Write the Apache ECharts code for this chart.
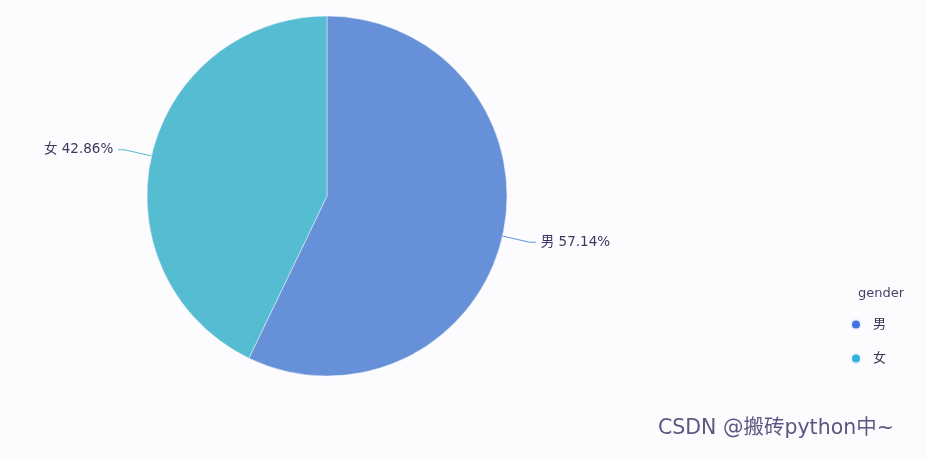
<!DOCTYPE html>
<html>
<head>
<meta charset="utf-8">
<script src="https://cdn.jsdelivr.net/npm/echarts@6/dist/echarts.min.js"></script>
<style>
html,body{margin:0;padding:0;background:#fcfcfe;}
#chart{width:926px;height:460px;}
</style>
</head>
<body>
<div id="chart"></div>
<script>
const categories = ['男', '女'];
const values = [4, 3];
const sliceColors = ['#6690d8', '#56bcd1'];
const legendColors = ['#3f72de', '#2fb3dc'];
const legendTitle = 'gender';
const watermark = 'CSDN @搬砖python中~';

const FONT = '"DejaVu Sans", "Noto Sans CJK SC", sans-serif';
const chart = echarts.init(document.getElementById('chart'));
chart.setOption({
  backgroundColor: '#fcfcfe',
  animation: false,
  title: [{
    text: legendTitle,
    left: 853, top: 282,
    textStyle: {fontSize: 13, fontWeight: 'normal', color: '#4a3f66', fontFamily: FONT}
  }, {
    text: watermark,
    left: 653, top: 413,
    textStyle: {fontSize: 20.5, fontWeight: 'normal', color: '#5e5680', fontFamily: FONT}
  }],
  legend: {
    orient: 'vertical',
    left: 845, top: 313,
    icon: 'circle',
    itemWidth: 10, itemHeight: 10,
    itemGap: 21,
    textStyle: {fontSize: 13, color: '#3a2f55', fontFamily: FONT, padding: [0, 0, 0, 7]},
    data: categories.map((c, i) => ({name: c, itemStyle: {color: legendColors[i]}}))
  },
  series: [{
    type: 'pie',
    center: [327, 196],
    radius: 180,
    startAngle: 90,
    clockwise: true,
    data: categories.map((c, i) => ({name: c, value: values[i], itemStyle: {color: sliceColors[i]}})),
    itemStyle: {borderColor: '#eef2fb', borderWidth: 0.5},
    label: {
      formatter: '{b} {d}%',
      fontSize: 13.5,
      color: '#3f3560',
      fontFamily: FONT
    },
    labelLine: {length: 28, length2: 6, lineStyle: {width: 1}}
  }]
});
</script>
</body>
</html>
